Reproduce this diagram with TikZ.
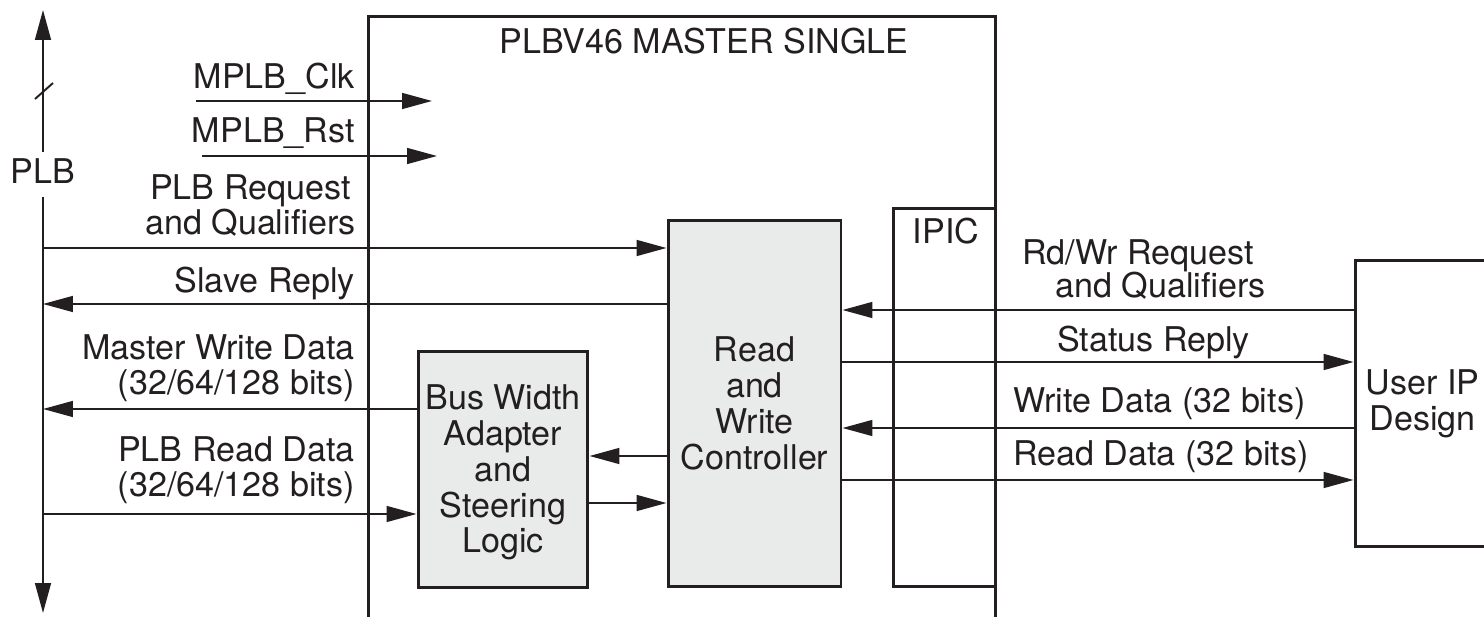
\documentclass[tikz,border=0pt]{standalone}
\usepackage{fontspec}
\setmainfont{TeX Gyre Heros}
\usepackage{tikz}
\usetikzlibrary{arrows.meta, positioning, calc}
\definecolor{ink}{RGB}{35,31,32}
\definecolor{blkfill}{RGB}{233,235,234}

\begin{document}
\begin{tikzpicture}[
  x=0.02cm, y=-0.02cm, color=ink,
  font=\fontsize{19.4pt}{20.4pt}\selectfont,
  blk/.style={draw, line width=1.7pt, align=center, inner sep=0pt},
  gblk/.style={blk, fill=blkfill},
  arr/.style={-{Triangle[length=17pt, width=9pt]}, line width=1.1pt},
  lbl/.style={inner sep=0pt, align=#1},
  lbl/.default=center
]
\useasboundingbox (0,0) rectangle (1484,617);
\clip (0,0) rectangle (1484,617);

% core block, open at the bottom
\node[minimum width=12.56cm, minimum height=12.02cm, inner sep=0pt, outer sep=0pt] (core) at (682,316.5) {};
\draw[line width=1.7pt] (core.south west) -- (core.north west) -- (core.north east) -- (core.south east);
\node[lbl, anchor=base] (title) at (704,54) {PLBV46 MASTER SINGLE};

\node[gblk, minimum width=3.46cm, minimum height=7.34cm] (rwc) at (754.5,403.5) {Read\\and\\Write\\Controller};
\node[gblk, minimum width=3.4cm, minimum height=4.74cm] (bwa) at (503,469.5) {};
\node[lbl, anchor=base] (bwalbl) at (503,553) {Bus Width\\Adapter\\and\\Steering\\Logic};
\node[blk, minimum width=2.06cm, minimum height=7.58cm] (ipic) at (944.5,397.5) {};
\node[lbl, anchor=base] (ipiclbl) at (946,244) {IPIC};
\node[blk, minimum width=2.7cm, minimum height=5.74cm] (uip) at (1422.5,403.5) {User IP\\Design};

% PLB bus
\node[lbl, anchor=base] (plb) at (43,184) {PLB};
\coordinate (plbtop) at (43,10);
\coordinate (plbbot) at (43,613);
\draw[arr] ([yshift=4pt]plb.north) -- (plbtop);
\draw[arr] ([yshift=-7pt]plb.south) -- (plbbot);
\draw[line width=1.1pt] (35,99) -- (53,83);

% clock and reset
\coordinate (clksrc) at (196,101);
\coordinate (clkin) at (432,101);
\coordinate (rstsrc) at (202,156);
\coordinate (rstin) at (437,156);
\draw[arr] (clksrc) -- (clkin);
\draw[arr] (rstsrc) -- (rstin);
\node[lbl, anchor=base east] (clklbl) at (355,89) {MPLB\_Clk};
\node[lbl, anchor=base east] (rstlbl) at (355,143) {MPLB\_Rst};

% PLB side signals
\coordinate (plbreq) at (43,248);
\coordinate (plbrep) at (43,304);
\coordinate (plbwr) at (43,409);
\coordinate (plbrd) at (43,514);
\draw[arr] (plbreq) -- (plbreq -| rwc.west);
\draw[arr] (plbrep -| rwc.west) -- (plbrep);
\draw[arr] (plbwr -| bwa.west) -- (plbwr);
\draw[arr] (plbrd) -- (plbrd -| bwa.west);
\node[lbl, anchor=base east] (reqlbl) at (356,235) {PLB Request\\and Qualifiers};
\node[lbl, anchor=base east] (replbl) at (355,293) {Slave Reply};
\node[lbl=right, anchor=base east] (wrlbl) at (355,395) {Master Write Data\\(32/64/128 bits)};
\node[lbl=right, anchor=base east] (rdlbl) at (355,497) {PLB Read Data\\(32/64/128 bits)};

% controller <-> adapter
\draw[arr] (rwc.west |- 0,456) -- (bwa.east |- 0,456);
\draw[arr] (bwa.east |- 0,503) -- (rwc.west |- 0,503);

% IPIC side signals
\draw[arr] (uip.west |- 0,310) -- (rwc.east |- 0,310);
\draw[arr] (rwc.east |- 0,362) -- (uip.west |- 0,362);
\draw[arr] (uip.west |- 0,428) -- (rwc.east |- 0,428);
\draw[arr] (rwc.east |- 0,480) -- (uip.west |- 0,480);
\node[lbl, anchor=base west] (rwreqlbl) at (1022,265) {Rd/Wr Request};
\node[lbl, anchor=base west] (rwqlbl) at (1055,298) {and Qualifiers};
\node[lbl, anchor=base west] (stlbl) at (1057,352) {Status Reply};
\node[lbl, anchor=base west] (wdlbl) at (1013,413) {Write Data (32 bits)};
\node[lbl, anchor=base west] (rdatlbl) at (1013,466) {Read Data (32 bits)};

\end{tikzpicture}
\end{document}
